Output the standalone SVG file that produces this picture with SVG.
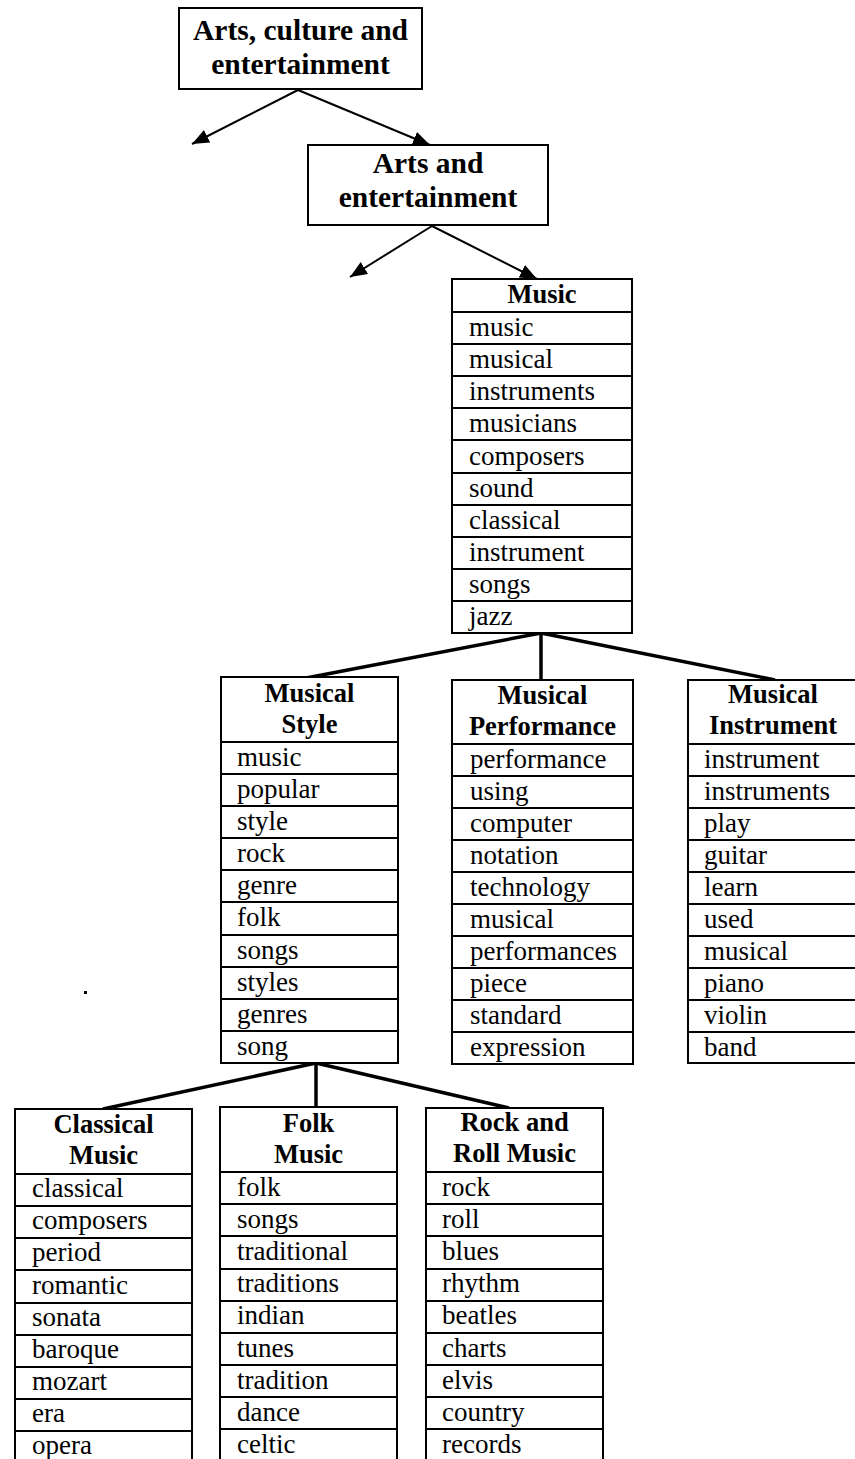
<svg xmlns="http://www.w3.org/2000/svg" width="855" height="1459" viewBox="0 0 855 1459">
  <style>
    .box { fill: #fff; stroke: #000; stroke-width: 2; }
    .div { stroke: #000; stroke-width: 2; }
    .title { font-weight: bold; font-size: 29.5px; text-anchor: middle; }
    .hdr { font-weight: bold; font-size: 26.5px; text-anchor: middle; }
    .item { font-size: 27px; }
    .arrow { stroke: #000; stroke-width: 2; fill: none; marker-end: url(#head); }
    .branch { stroke: #000; stroke-width: 3.5; fill: none; }
  </style>
  <defs>
    <marker id="head" markerUnits="userSpaceOnUse" markerWidth="18" markerHeight="15" refX="17" refY="7" orient="auto">
      <path d="M0,0 L17,7 L0,14 Z" fill="#000"/>
    </marker>
  </defs>
  <rect width="855" height="1459" fill="#fff"/>

  <!-- connectors -->
  <g id="connectors">
    <line class="arrow" x1="298" y1="90" x2="192" y2="144"/>
    <line class="arrow" x1="298" y1="90" x2="430" y2="145"/>
    <line class="arrow" x1="432" y1="226" x2="350" y2="277"/>
    <line class="arrow" x1="432" y1="226" x2="537" y2="279"/>
    <line class="branch" x1="541" y1="633" x2="306" y2="678"/>
    <line class="branch" x1="541" y1="633" x2="541" y2="680"/>
    <line class="branch" x1="541" y1="633" x2="775" y2="680"/>
    <line class="branch" x1="316" y1="1063" x2="103" y2="1109"/>
    <line class="branch" x1="316" y1="1063" x2="316" y2="1107"/>
    <line class="branch" x1="316" y1="1063" x2="509" y2="1108"/>
  </g>

  <g id="nodes" font-family="Liberation Serif, Times New Roman, Tinos, FreeSerif, Noto Serif, DejaVu Serif, serif" fill="#000">
  <!-- top category -->
  <g id="arts-culture">
    <rect class="box" x="179" y="8" width="243" height="81"/>
    <text class="title" x="300.5" y="40">Arts, culture and</text>
    <text class="title" x="300.5" y="74">entertainment</text>
  </g>

  <g id="arts-entertainment">
    <rect class="box" x="308" y="145" width="240" height="80"/>
    <text class="title" x="428" y="173">Arts and</text>
    <text class="title" x="428" y="207">entertainment</text>
  </g>

  <!-- Music -->
  <g id="music">
    <rect class="box" x="452" y="279" width="180" height="354"/>
    <text class="hdr" x="542" y="303">Music</text>
    <line class="div" x1="452" y1="312" x2="632" y2="312"/>
    <line class="div" x1="452" y1="344" x2="632" y2="344"/>
    <line class="div" x1="452" y1="376" x2="632" y2="376"/>
    <line class="div" x1="452" y1="408" x2="632" y2="408"/>
    <line class="div" x1="452" y1="440" x2="632" y2="440"/>
    <line class="div" x1="452" y1="473" x2="632" y2="473"/>
    <line class="div" x1="452" y1="505" x2="632" y2="505"/>
    <line class="div" x1="452" y1="537" x2="632" y2="537"/>
    <line class="div" x1="452" y1="569" x2="632" y2="569"/>
    <line class="div" x1="452" y1="601" x2="632" y2="601"/>
    <text class="item" x="469" y="336">music</text>
    <text class="item" x="469" y="368">musical</text>
    <text class="item" x="469" y="400">instruments</text>
    <text class="item" x="469" y="432">musicians</text>
    <text class="item" x="469" y="465">composers</text>
    <text class="item" x="469" y="497">sound</text>
    <text class="item" x="469" y="529">classical</text>
    <text class="item" x="469" y="561">instrument</text>
    <text class="item" x="469" y="593">songs</text>
    <text class="item" x="469" y="625">jazz</text>
  </g>

  <!-- Musical Style -->
  <g id="musical-style">
    <rect class="box" x="221" y="677" width="177" height="386"/>
    <text class="hdr" x="309.5" y="702">Musical</text>
    <text class="hdr" x="309.5" y="733">Style</text>
    <line class="div" x1="221" y1="742" x2="398" y2="742"/>
    <line class="div" x1="221" y1="774" x2="398" y2="774"/>
    <line class="div" x1="221" y1="806" x2="398" y2="806"/>
    <line class="div" x1="221" y1="838" x2="398" y2="838"/>
    <line class="div" x1="221" y1="870" x2="398" y2="870"/>
    <line class="div" x1="221" y1="902" x2="398" y2="902"/>
    <line class="div" x1="221" y1="935" x2="398" y2="935"/>
    <line class="div" x1="221" y1="967" x2="398" y2="967"/>
    <line class="div" x1="221" y1="999" x2="398" y2="999"/>
    <line class="div" x1="221" y1="1031" x2="398" y2="1031"/>
    <text class="item" x="237" y="766">music</text>
    <text class="item" x="237" y="798">popular</text>
    <text class="item" x="237" y="830">style</text>
    <text class="item" x="237" y="862">rock</text>
    <text class="item" x="237" y="894">genre</text>
    <text class="item" x="237" y="926">folk</text>
    <text class="item" x="237" y="959">songs</text>
    <text class="item" x="237" y="991">styles</text>
    <text class="item" x="237" y="1023">genres</text>
    <text class="item" x="237" y="1055">song</text>
  </g>

  <!-- Musical Performance -->
  <g id="musical-performance">
    <rect class="box" x="452" y="680" width="181" height="384"/>
    <text class="hdr" x="542.5" y="704">Musical</text>
    <text class="hdr" x="542.5" y="735">Performance</text>
    <line class="div" x1="452" y1="744" x2="633" y2="744"/>
    <line class="div" x1="452" y1="776" x2="633" y2="776"/>
    <line class="div" x1="452" y1="808" x2="633" y2="808"/>
    <line class="div" x1="452" y1="840" x2="633" y2="840"/>
    <line class="div" x1="452" y1="872" x2="633" y2="872"/>
    <line class="div" x1="452" y1="904" x2="633" y2="904"/>
    <line class="div" x1="452" y1="936" x2="633" y2="936"/>
    <line class="div" x1="452" y1="968" x2="633" y2="968"/>
    <line class="div" x1="452" y1="1000" x2="633" y2="1000"/>
    <line class="div" x1="452" y1="1032" x2="633" y2="1032"/>
    <text class="item" x="470" y="768">performance</text>
    <text class="item" x="470" y="800">using</text>
    <text class="item" x="470" y="832">computer</text>
    <text class="item" x="470" y="864">notation</text>
    <text class="item" x="470" y="896">technology</text>
    <text class="item" x="470" y="928">musical</text>
    <text class="item" x="470" y="960">performances</text>
    <text class="item" x="470" y="992">piece</text>
    <text class="item" x="470" y="1024">standard</text>
    <text class="item" x="470" y="1056">expression</text>
  </g>

  <!-- Musical Instrument -->
  <g id="musical-instrument">
    <rect class="box" x="688" y="680" width="172" height="383"/>
    <text class="hdr" x="773" y="703">Musical</text>
    <text class="hdr" x="773" y="734">Instrument</text>
    <line class="div" x1="688" y1="744" x2="860" y2="744"/>
    <line class="div" x1="688" y1="776" x2="860" y2="776"/>
    <line class="div" x1="688" y1="808" x2="860" y2="808"/>
    <line class="div" x1="688" y1="840" x2="860" y2="840"/>
    <line class="div" x1="688" y1="872" x2="860" y2="872"/>
    <line class="div" x1="688" y1="904" x2="860" y2="904"/>
    <line class="div" x1="688" y1="936" x2="860" y2="936"/>
    <line class="div" x1="688" y1="968" x2="860" y2="968"/>
    <line class="div" x1="688" y1="1000" x2="860" y2="1000"/>
    <line class="div" x1="688" y1="1032" x2="860" y2="1032"/>
    <text class="item" x="704" y="768">instrument</text>
    <text class="item" x="704" y="800">instruments</text>
    <text class="item" x="704" y="832">play</text>
    <text class="item" x="704" y="864">guitar</text>
    <text class="item" x="704" y="896">learn</text>
    <text class="item" x="704" y="928">used</text>
    <text class="item" x="704" y="960">musical</text>
    <text class="item" x="704" y="992">piano</text>
    <text class="item" x="704" y="1024">violin</text>
    <text class="item" x="704" y="1056">band</text>
  </g>

  <!-- Classical Music -->
  <g id="classical-music">
    <rect class="box" x="15" y="1109" width="177" height="370"/>
    <text class="hdr" x="103.5" y="1133">Classical</text>
    <text class="hdr" x="103.5" y="1164">Music</text>
    <line class="div" x1="15" y1="1174" x2="192" y2="1174"/>
    <line class="div" x1="15" y1="1206" x2="192" y2="1206"/>
    <line class="div" x1="15" y1="1238" x2="192" y2="1238"/>
    <line class="div" x1="15" y1="1270" x2="192" y2="1270"/>
    <line class="div" x1="15" y1="1303" x2="192" y2="1303"/>
    <line class="div" x1="15" y1="1335" x2="192" y2="1335"/>
    <line class="div" x1="15" y1="1367" x2="192" y2="1367"/>
    <line class="div" x1="15" y1="1399" x2="192" y2="1399"/>
    <line class="div" x1="15" y1="1431" x2="192" y2="1431"/>
    <text class="item" x="32" y="1197">classical</text>
    <text class="item" x="32" y="1229">composers</text>
    <text class="item" x="32" y="1261">period</text>
    <text class="item" x="32" y="1294">romantic</text>
    <text class="item" x="32" y="1326">sonata</text>
    <text class="item" x="32" y="1358">baroque</text>
    <text class="item" x="32" y="1390">mozart</text>
    <text class="item" x="32" y="1422">era</text>
    <text class="item" x="32" y="1454">opera</text>
  </g>

  <!-- Folk Music -->
  <g id="folk-music">
    <rect class="box" x="220" y="1107" width="177" height="372"/>
    <text class="hdr" x="308.5" y="1132">Folk</text>
    <text class="hdr" x="308.5" y="1163">Music</text>
    <line class="div" x1="220" y1="1172" x2="397" y2="1172"/>
    <line class="div" x1="220" y1="1204" x2="397" y2="1204"/>
    <line class="div" x1="220" y1="1236" x2="397" y2="1236"/>
    <line class="div" x1="220" y1="1269" x2="397" y2="1269"/>
    <line class="div" x1="220" y1="1301" x2="397" y2="1301"/>
    <line class="div" x1="220" y1="1333" x2="397" y2="1333"/>
    <line class="div" x1="220" y1="1365" x2="397" y2="1365"/>
    <line class="div" x1="220" y1="1397" x2="397" y2="1397"/>
    <line class="div" x1="220" y1="1429" x2="397" y2="1429"/>
    <text class="item" x="237" y="1196">folk</text>
    <text class="item" x="237" y="1228">songs</text>
    <text class="item" x="237" y="1260">traditional</text>
    <text class="item" x="237" y="1292">traditions</text>
    <text class="item" x="237" y="1324">indian</text>
    <text class="item" x="237" y="1357">tunes</text>
    <text class="item" x="237" y="1389">tradition</text>
    <text class="item" x="237" y="1421">dance</text>
    <text class="item" x="237" y="1453">celtic</text>
  </g>

  <!-- Rock and Roll Music -->
  <g id="rock-and-roll-music">
    <rect class="box" x="426" y="1108" width="177" height="371"/>
    <text class="hdr" x="514.5" y="1131">Rock and</text>
    <text class="hdr" x="514.5" y="1162">Roll Music</text>
    <line class="div" x1="426" y1="1172" x2="603" y2="1172"/>
    <line class="div" x1="426" y1="1204" x2="603" y2="1204"/>
    <line class="div" x1="426" y1="1236" x2="603" y2="1236"/>
    <line class="div" x1="426" y1="1269" x2="603" y2="1269"/>
    <line class="div" x1="426" y1="1301" x2="603" y2="1301"/>
    <line class="div" x1="426" y1="1333" x2="603" y2="1333"/>
    <line class="div" x1="426" y1="1365" x2="603" y2="1365"/>
    <line class="div" x1="426" y1="1397" x2="603" y2="1397"/>
    <line class="div" x1="426" y1="1429" x2="603" y2="1429"/>
    <text class="item" x="442" y="1196">rock</text>
    <text class="item" x="442" y="1228">roll</text>
    <text class="item" x="442" y="1260">blues</text>
    <text class="item" x="442" y="1292">rhythm</text>
    <text class="item" x="442" y="1324">beatles</text>
    <text class="item" x="442" y="1357">charts</text>
    <text class="item" x="442" y="1389">elvis</text>
    <text class="item" x="442" y="1421">country</text>
    <text class="item" x="442" y="1453">records</text>
  </g>
  </g>

  <!-- stray dot -->
  <rect x="84" y="991" width="3" height="3" fill="#000"/>
</svg>
